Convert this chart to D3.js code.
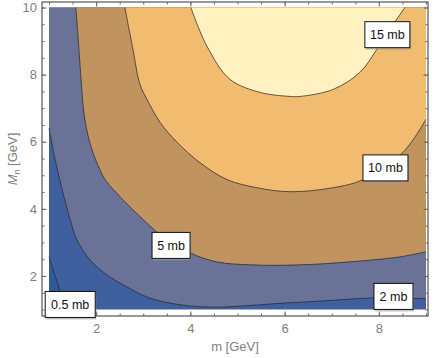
<!DOCTYPE html>
<html>
<head>
<meta charset="utf-8">
<script src="https://cdn.jsdelivr.net/npm/d3@7"></script>
<style>
  body { margin: 0; background: #fff; }
  text { font-family: "Liberation Sans", Arial, sans-serif; }
</style>
</head>
<body>
<div id="chart"></div>
<script>
// contour lines, [m, M_n] in GeV
var c05 = [[1.0, 2.57], [1.11, 2.09], [1.23, 1.58], [1.36, 1.0]];
var c2 = [[1.0, 6.40], [1.13, 5.47], [1.28, 4.57], [1.45, 3.68], [1.59, 3.08], [1.87, 2.48],
          [2.23, 2.03], [2.66, 1.67], [3.14, 1.34], [3.84, 1.13], [4.56, 1.07], [5.27, 1.12],
          [5.97, 1.19], [6.75, 1.25], [7.39, 1.31], [8.02, 1.35], [9.0, 1.32]];
var c5 = [[1.57, 10], [1.62, 9.06], [1.66, 8.25], [1.76, 6.67], [1.91, 5.77], [2.08, 5.17],
          [2.19, 4.87], [2.57, 4.27], [2.93, 3.77], [3.36, 3.23], [3.99, 2.69], [4.56, 2.42],
          [5.27, 2.33], [6.33, 2.33], [7.39, 2.42], [8.45, 2.57], [9.0, 2.72]];
var c10 = [[2.61, 10], [2.78, 8.76], [2.93, 7.71], [3.08, 7.26], [3.36, 6.57], [3.72, 5.98],
           [4.2, 5.38], [4.78, 4.87], [5.41, 4.63], [6.11, 4.51], [7.03, 4.63], [7.66, 4.87],
           [8.51, 5.68], [9.0, 6.67]];
var c15 = [[4.01, 10], [4.35, 8.85], [4.84, 7.86], [5.48, 7.47], [6.11, 7.35], [6.33, 7.35],
           [7.03, 7.56], [7.6, 8.07], [7.96, 8.76], [8.24, 9.36], [8.55, 10]];

var labelText = ["0.5 mb", "2 mb", "5 mb", "10 mb", "15 mb"];
var labelPos = [[1.45, 1.15], [8.31, 1.39], [3.59, 2.91], [8.14, 5.22], [8.18, 9.19]];
var labelW = [50, 39, 38, 45, 45];

var xMajor = [2, 4, 6, 8];
var yMajor = [2, 4, 6, 8, 10];
var xMinor = d3.range(1, 9.01, 0.5);
var yMinor = d3.range(1, 10.01, 0.5);

var width = 436, height = 358;
var frame = {left: 42, right: 428, top: 2, bottom: 316};

var svg = d3.select('#chart').append('svg')
    .attr('width', width)
    .attr('height', height);

var x = d3.scaleLinear().domain([1, 9]).range([49, 426]);
var y = d3.scaleLinear().domain([1, 10]).range([309.5, 7.5]);

var line = d3.line()
    .x(d => x(d[0]))
    .y(d => y(d[1]))
    .curve(d3.curveCatmullRom);

// polygon: contour + extra corner points
function region(pts, corners) {
    var p = line(pts);
    corners.forEach(function(c) { p += 'L' + x(c[0]) + ',' + y(c[1]); });
    return p + 'Z';
}

// background band 0.5 - 2 mb
svg.append('rect')
    .attr('x', x(1)).attr('y', y(10))
    .attr('width', x(9) - x(1)).attr('height', y(1) - y(10))
    .attr('fill', '#3f5f9f');

svg.append('path').attr('d', region(c05, [[1, 1]])).attr('fill', '#2f5a98');
svg.append('path').attr('d', region(c2, [[9, 10], [1, 10]])).attr('fill', '#6a7297');
svg.append('path').attr('d', region(c5, [[9, 10]])).attr('fill', '#c1935f');
svg.append('path').attr('d', region(c10, [[9, 10]])).attr('fill', '#f2bc70');
svg.append('path').attr('d', region(c15, [])).attr('fill', '#fff1c0');

// contour lines
[c05, c2, c5, c10, c15].forEach(function(c) {
    svg.append('path')
        .attr('d', line(c))
        .attr('fill', 'none')
        .attr('stroke', '#2a2a2a')
        .attr('stroke-opacity', 0.75)
        .attr('stroke-width', 1);
});

// frame
svg.append('rect')
    .attr('x', frame.left).attr('y', frame.top)
    .attr('width', frame.right - frame.left)
    .attr('height', frame.bottom - frame.top)
    .attr('fill', 'none')
    .attr('stroke', '#555')
    .attr('stroke-width', 1.2);

function ticks(axis, tr) {
    var g = svg.append('g').attr('transform', tr).call(axis);
    g.select('.domain').remove();
    g.selectAll('line').attr('stroke', '#666');
    g.selectAll('text').attr('fill', '#808080').attr('font-size', 13)
        .style('font-family', '"Liberation Sans", Arial, sans-serif');
    return g;
}

// bottom / top
ticks(d3.axisBottom(x).tickValues(xMinor).tickSize(-2.5).tickFormat(''), 'translate(0,' + frame.bottom + ')');
ticks(d3.axisBottom(x).tickValues(xMajor).tickSize(-4.5).tickPadding(8), 'translate(0,' + frame.bottom + ')');
ticks(d3.axisTop(x).tickValues(xMinor).tickSize(-2.5).tickFormat(''), 'translate(0,' + frame.top + ')');
ticks(d3.axisTop(x).tickValues(xMajor).tickSize(-4.5).tickFormat(''), 'translate(0,' + frame.top + ')');
// left / right
ticks(d3.axisLeft(y).tickValues(yMinor).tickSize(-2.5).tickFormat(''), 'translate(' + frame.left + ',0)');
ticks(d3.axisLeft(y).tickValues(yMajor).tickSize(-4.5).tickPadding(5), 'translate(' + frame.left + ',0)');
ticks(d3.axisRight(y).tickValues(yMinor).tickSize(-2.5).tickFormat(''), 'translate(' + frame.right + ',0)');
ticks(d3.axisRight(y).tickValues(yMajor).tickSize(-4.5).tickFormat(''), 'translate(' + frame.right + ',0)');

// axis titles
svg.append('text')
    .attr('x', (frame.left + frame.right) / 2)
    .attr('y', 351)
    .attr('text-anchor', 'middle')
    .attr('font-size', 13)
    .attr('fill', '#808080')
    .text('m [GeV]');

var yt = svg.append('text')
    .attr('transform', 'translate(17,' + (frame.top + frame.bottom) / 2 + ') rotate(-90)')
    .attr('text-anchor', 'middle')
    .attr('font-size', 13)
    .attr('fill', '#808080');
yt.append('tspan').attr('font-style', 'italic').text('M');
yt.append('tspan').attr('font-style', 'italic').attr('font-size', 9).attr('dy', 3).text('n');
yt.append('tspan').attr('dy', -3).text(' [GeV]');

// contour labels
labelText.forEach(function(t, i) {
    var cx = x(labelPos[i][0]), cy = y(labelPos[i][1]);
    var w = labelW[i], h = 26;
    var g = svg.append('g');
    g.append('rect')
        .attr('x', cx - w / 2 + 1).attr('y', cy - h / 2 + 2)
        .attr('width', w).attr('height', h)
        .attr('fill', '#999').attr('opacity', 0.6);
    g.append('rect')
        .attr('x', cx - w / 2).attr('y', cy - h / 2)
        .attr('width', w).attr('height', h)
        .attr('fill', '#fff')
        .attr('stroke', '#111')
        .attr('stroke-width', 1);
    g.append('text')
        .attr('x', cx).attr('y', cy + 4.5)
        .attr('text-anchor', 'middle')
        .attr('font-size', 12.5)
        .attr('fill', '#111')
        .text(t);
});
</script>
</body>
</html>
